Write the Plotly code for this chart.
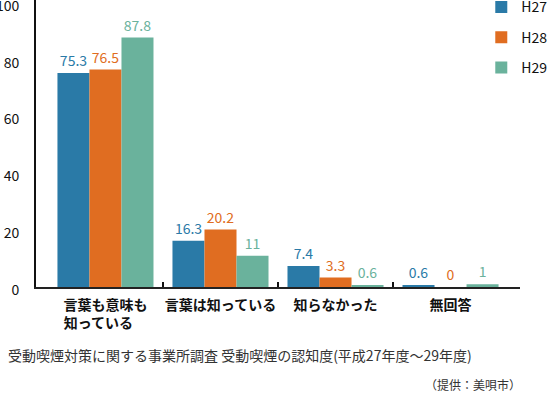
import plotly.graph_objects as go

categories = ["言葉も意味も<br>知っている　", "言葉は知っている", "知らなかった", "無回答"]
series_names = ["H27", "H28", "H29"]
h27 = [75.3, 16.3, 7.4, 0.6]
h28 = [76.5, 20.2, 3.3, 0]
h29 = [87.8, 11, 0.6, 1]
colors = ["#2a7aa7", "#e06d21", "#6ab29c"]
caption = "受動喫煙対策に関する事業所調査 受動喫煙の認知度(平成27年度～29年度)"
source = "（提供：美唄市）"

FONT = "Noto Sans CJK JP, Noto Sans, sans-serif"

fig = go.Figure()
for i, (name, vals) in enumerate(zip(series_names, [h27, h28, h29])):
    fig.add_trace(go.Bar(
        x=categories, y=vals, name=name,
        marker=dict(color=colors[i], line=dict(width=0)),
        text=[f"{v:g}" for v in vals], textposition="outside",
        textfont=dict(color=colors[i], size=14, family=FONT),
        cliponaxis=False, legendgroup=name,
    ))

# overlay axis for boundary ticks between categories
fig.add_trace(go.Scatter(x=[0.5, 1.5, 2.5], y=[None, None, None], xaxis="x2",
                         showlegend=False, hoverinfo="skip", mode="markers"))

rng = [-0.604, 3.604]
fig.update_layout(
    width=550, height=393,
    margin=dict(l=36, r=30, t=0, b=106, autoexpand=False),
    paper_bgcolor="white", plot_bgcolor="white",
    barmode="group", bargap=0.165, bargroupgap=0,
    font=dict(family=FONT, color="#111", size=14),
    showlegend=True,
    legend=dict(x=0.920, y=1.03, xanchor="left", yanchor="top",
                font=dict(size=14, color="#111", family=FONT),
                tracegroupgap=9, itemwidth=30, bgcolor="rgba(0,0,0,0)"),
    xaxis=dict(type="category", range=rng, showline=True, linecolor="#222", linewidth=2,
               ticks="", showgrid=False, automargin=False,
               tickfont=dict(size=14, color="#111", family=FONT, weight="bold"),
               ticklabelstandoff=4),
    xaxis2=dict(overlaying="x", anchor="y", range=rng, showline=False, showgrid=False,
                tickvals=[0.5, 1.5, 2.5], ticks="inside", ticklen=5, tickwidth=2,
                tickcolor="#111", showticklabels=False, zeroline=False, automargin=False),
    yaxis=dict(range=[0, 101], tickvals=[0, 20, 40, 60, 80, 100], showline=True,
               linecolor="#111", linewidth=2, showgrid=False, zeroline=False, ticks="",
               automargin=False, ticklabeloverflow="allow", ticklabelshift=3,
               tickfont=dict(size=14, color="#111", family=FONT), ticklabelstandoff=12),
    annotations=[
        dict(text=caption, xref="paper", yref="paper", x=-0.062, y=-0.237, xanchor="left",
             yanchor="middle", showarrow=False, font=dict(size=14, color="#333", family=FONT)),
        dict(text=source, xref="paper", yref="paper", x=1.006, y=-0.341, xanchor="right",
             yanchor="middle", showarrow=False, font=dict(size=12, color="#333", family=FONT)),
    ],
)
fig.write_html("out.html", post_script="document.body.style.margin='0';",
               config={"displayModeBar": False})
